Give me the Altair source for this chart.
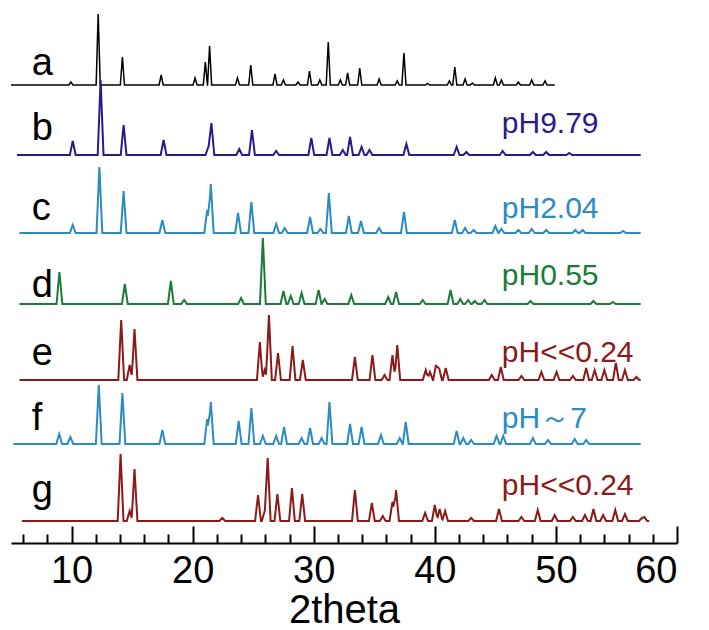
import altair as alt
import pandas as pd

# ---- stacked XRD patterns: peak positions (2theta) and heights ----
trace_ids = ["a", "b", "c", "d", "e", "f", "g"]
trace_colors = ["#000000", "#2b1a8f", "#2b8cc4", "#1c7a3a", "#8c1a1a", "#2b8cc4", "#8c1a1a"]
trace_offsets = [458, 388, 310, 239, 163, 99, 22]
trace_start = [5.0, 5.5, 5.7, 5.7, 5.7, 5.2, 5.9]
trace_end = [49.9, 57.0, 57.0, 57.0, 57.0, 57.0, 57.7]

pos_a = [9.95, 12.2, 14.2, 17.4, 20.2, 21.05, 21.4, 23.7, 24.8, 26.8, 27.5, 28.7, 29.65, 30.5,
         31.2, 32.2, 32.8, 33.8, 35.4, 36.9, 37.45, 39.4, 41.2, 41.65, 42.5, 43.1, 45.0, 45.5,
         46.9, 48.0, 49.1]
h_a = [3, 71, 28, 10, 7, 23, 39, 7, 20, 11, 5, 3, 14, 5,
       43, 5, 12, 17, 6, 4, 32, 1.5, 4, 18, 6, 2, 7, 5,
       3, 5, 4]

pos_b = [10.1, 12.4, 14.3, 17.6, 21.3, 21.55, 23.85, 24.9, 26.9, 29.8, 31.3, 32.4, 33.0, 33.95,
         34.6, 37.65, 41.8, 42.6, 45.6, 48.1, 49.2, 51.1]
h_b = [14, 75, 30, 15, 8, 32, 6, 25, 4, 17, 17, 5, 18, 8,
       5, 11, 8, 3, 4, 3, 3, 2]

pos_c = [10.1, 12.3, 14.3, 17.5, 21.2, 21.5, 23.75, 24.85, 26.9, 27.6, 29.7, 30.55, 31.25, 32.9,
         33.9, 35.4, 37.45, 41.65, 42.5, 43.2, 45.0, 45.5, 46.9, 48.0, 49.2, 51.6, 52.2, 55.55]
h_c = [8, 66, 42, 13, 23, 49, 20, 31, 9, 5, 16, 4, 40, 17,
       12, 5, 21, 13, 5, 3, 7, 4, 3, 4, 3, 3, 3, 2]

pos_d = [9.0, 14.4, 18.2, 19.3, 24.0, 25.8, 27.5, 28.1, 29.0, 30.4, 30.9, 33.1, 36.15, 36.8,
         39.0, 41.3, 42.1, 42.75, 43.3, 44.1, 47.9, 53.1, 54.7]
h_d = [32, 20, 23, 4, 6, 66, 13, 8, 11, 14, 5, 9, 7, 12,
       4, 14, 5, 4, 3, 4, 3, 3, 2]

pos_e = [14.1, 14.8, 15.2, 25.55, 25.95, 26.3, 27.05, 28.25, 29.1, 33.4, 34.85, 35.85, 36.5, 36.9,
         39.25, 39.6, 40.1, 40.35, 40.9, 44.7, 45.45, 47.15, 48.8, 50.05, 51.4, 52.5, 53.2, 54.0,
         54.95, 55.7, 56.65]
h_e = [60, 15, 51, 38, 10, 65, 27, 34, 20, 23, 25, 5, 25, 35,
       10, 8, 15, 12, 12, 5, 13, 4, 8, 8, 4, 12, 10, 10,
       17, 10, 3]

pos_f = [8.98, 9.9, 12.25, 14.2, 17.5, 21.2, 21.5, 23.8, 24.85, 25.8, 26.9, 27.55, 29.0, 29.7,
         30.65, 31.3, 33.0, 33.95, 35.55, 37.1, 37.6, 41.8, 42.35, 43.0, 45.1, 45.65, 48.1, 49.35,
         51.55, 52.5]
h_f = [10, 7, 59, 51, 14, 25, 42, 23, 36, 8, 8, 17, 6, 16,
       6, 42, 20, 17, 9, 6, 22, 13, 6, 4, 8, 8, 6, 4,
       5, 4]

pos_g = [14.05, 14.8, 15.2, 22.45, 25.4, 25.95, 26.2, 27.0, 28.2, 29.05, 33.4, 34.8, 35.7, 36.5,
         36.8, 39.2, 40.0, 40.4, 40.85, 43.0, 45.3, 47.15, 48.5, 49.9, 51.4, 52.4, 53.1, 53.9,
         54.9, 55.7, 57.1, 57.3]
h_g = [67, 10, 52, 3, 26, 10, 63, 27, 33, 27, 31, 18, 5, 19,
       31, 8, 16, 12, 10, 3, 12, 4, 11, 6, 4, 6, 12, 6,
       11, 7, 3, 4]

peak_pos = [pos_a, pos_b, pos_c, pos_d, pos_e, pos_f, pos_g]
peak_h = [h_a, h_b, h_c, h_d, h_e, h_f, h_g]

letters = ["a", "b", "c", "d", "e", "f", "g"]
letter_y = [468, 403, 323, 246, 178, 113, 41]
ph_text = ["pH9.79", "pH2.04", "pH0.55", "pH<<0.24", "pH\uff5e7", "pH<<0.24"]
ph_colors = ["#2b1a8f", "#2b8cc4", "#1c7a3a", "#8c1a1a", "#2b8cc4", "#8c1a1a"]
ph_y = [410, 325, 258, 181, 115, 48]

major_ticks = [10, 20, 30, 40, 50, 60]
minor_ticks = [6, 8, 12, 14, 16, 18, 22, 24, 26, 28, 32, 34, 36, 38, 42, 44, 46, 48,
               52, 54, 56, 58]

FONT = "Liberation Sans"
W, H = 666, 543


def peak_profile(positions, heights, start, end, half_width):
    """Polyline of narrow triangular peaks sitting on a flat baseline."""
    xs = {start, end}
    for p in positions:
        xs.update([p - half_width, p, p + half_width])
    xs = sorted(x for x in xs if start <= x <= end)
    ys = []
    for x in xs:
        y = 0.0
        for p, h in zip(positions, heights):
            y = max(y, h * max(0.0, 1 - abs(x - p) / half_width))
        ys.append(y)
    return xs, ys


rows = []
for i, tid in enumerate(trace_ids):
    hw = 0.17 if tid == "a" else 0.24
    xs, ys = peak_profile(peak_pos[i], peak_h[i], trace_start[i], trace_end[i], hw)
    for k, (x, y) in enumerate(zip(xs, ys)):
        rows.append({"trace": tid, "theta": x, "intensity": y + trace_offsets[i], "k": k,
                     "w": 1.5 if tid == "a" else 2.0})
df = pd.DataFrame(rows)

x_scale = alt.Scale(domain=[5, 60], nice=False, zero=False)
y_scale = alt.Scale(domain=[0, H], nice=False, zero=False)

lines = alt.Chart(df).mark_line(interpolate="linear").encode(
    x=alt.X("theta:Q", scale=x_scale,
            axis=alt.Axis(orient="bottom", values=major_ticks, ticks=False, domain=True,
                          domainColor="black", domainWidth=2, labelFont=FONT,
                          labelFontSize=38, labelColor="black", labelPadding=9,
                          title="2theta", titleFont=FONT, titleFontSize=40,
                          titleFontWeight="normal", titleColor="black", titlePadding=0,
                          grid=False)),
    y=alt.Y("intensity:Q", scale=y_scale, axis=None),
    color=alt.Color("trace:N", scale=alt.Scale(domain=trace_ids, range=trace_colors),
                    legend=None),
    strokeWidth=alt.StrokeWidth("w:Q", scale=None),
    detail="trace:N",
    order="k:Q",
)

letter_df = pd.DataFrame({"label": letters, "theta": [6.72] * len(letters), "y": letter_y})
letter_layer = alt.Chart(letter_df).mark_text(
    align="left", baseline="alphabetic", font=FONT, fontSize=38, color="black"
).encode(
    x=alt.X("theta:Q", scale=x_scale,
            axis=alt.Axis(orient="top", offset=-H, values=minor_ticks, tickSize=9,
                          tickWidth=2, tickColor="black", labels=False, domain=False,
                          title=None, grid=False)),
    y=alt.Y("y:Q", scale=y_scale, axis=None),
    text="label:N",
)

ph_df = pd.DataFrame({"label": ph_text, "theta": [45.53] * len(ph_text), "y": ph_y,
                      "col": ph_colors})
ph_layer = alt.Chart(ph_df).mark_text(
    align="left", baseline="alphabetic", font=FONT, fontSize=30
).encode(
    x=alt.X("theta:Q", scale=x_scale,
            axis=alt.Axis(orient="top", offset=-H, values=major_ticks, tickSize=17,
                          tickWidth=2, tickColor="black", labels=False, domain=False,
                          title=None, grid=False)),
    y=alt.Y("y:Q", scale=y_scale, axis=None),
    text="label:N",
    color=alt.Color("col:N", scale=None),
)

chart = alt.layer(lines, letter_layer, ph_layer).resolve_axis(x="independent").properties(
    width=W, height=H,
    autosize=alt.AutoSizeParams(type="none"),
    padding={"left": 11, "top": 0, "right": 32, "bottom": 87},
    background="white",
).configure_view(stroke=None)

chart.save("out.html", embed_options={"renderer": "svg", "actions": False})
